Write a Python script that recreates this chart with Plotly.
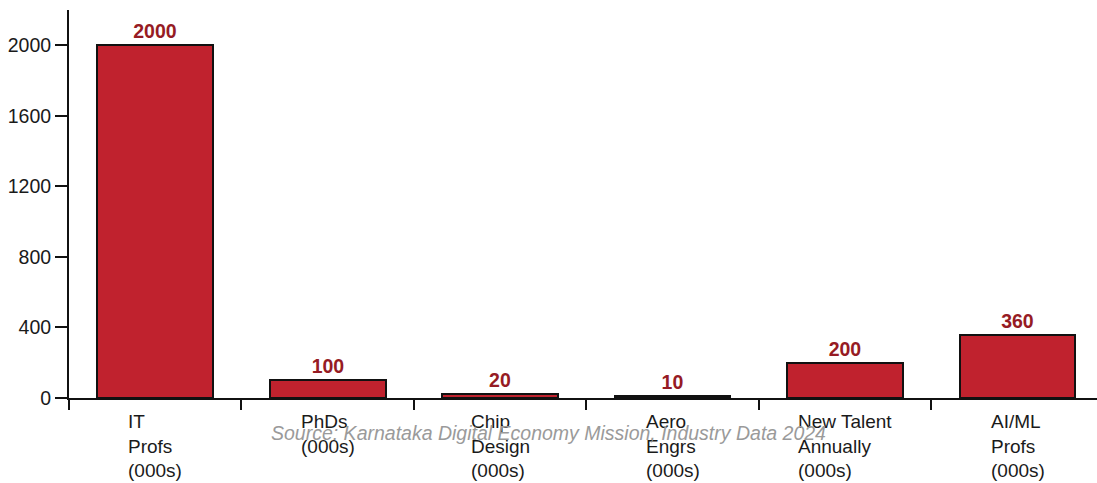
import plotly.graph_objects as go

# Talent pool in Karnataka (thousands)
categories = ["IT<br>Profs<br>(000s)", "PhDs<br>(000s)", "Chip<br>Design<br>(000s)",
              "Aero<br>Engrs<br>(000s)", "New Talent<br>Annually<br>(000s)", "AI/ML<br>Profs<br>(000s)"]
values = [2000, 100, 20, 10, 200, 360]
y_ticks = [0, 400, 800, 1200, 1600, 2000]

BAR_RED = "#c0222e"
LABEL_RED = "#961b24"
FONT = "Liberation Sans, Arial, Helvetica, sans-serif"

fig = go.Figure()
fig.add_trace(go.Bar(
    x=list(range(len(categories))),
    y=values,
    width=0.67,
    marker=dict(color=BAR_RED, line=dict(color="#111111", width=2)),
    text=[str(v) for v in values],
    textposition="outside",
    textfont=dict(family=FONT, size=19.5, color=LABEL_RED, weight="bold"),
    cliponaxis=False,
))

# Category labels under each bar (left-aligned block)
for i, cat in enumerate(categories):
    fig.add_annotation(
        x=i, xref="x", y=0, yref="paper", yanchor="top", yshift=-11,
        text=cat, showarrow=False, align="left",
        font=dict(family=FONT, size=19, color="#1a1a1a"),
    )

fig.add_annotation(
    x=0.466, xref="paper", y=0, yref="paper", yanchor="middle", yshift=-35,
    text="<i>Source: Karnataka Digital Economy Mission, Industry Data 2024</i>",
    showarrow=False, font=dict(family=FONT, size=19.5, color="#9a9a9a"),
)

fig.update_layout(
    width=1097, height=483,
    margin=dict(l=69, r=0, t=10, b=85),
    paper_bgcolor="white", plot_bgcolor="white",
    showlegend=False,
    bargap=0,
)
fig.update_xaxes(
    range=[-0.5, 5.46],
    tickmode="array", tickvals=[-0.5, 0.5, 1.5, 2.5, 3.5, 4.5, 5.5],
    showticklabels=False,
    ticks="outside", ticklen=10, tickwidth=2, tickcolor="#111111",
    showline=True, linecolor="#111111", linewidth=2,
    showgrid=False, zeroline=False,
)
fig.update_yaxes(
    range=[0, 2200],
    tickmode="array", tickvals=y_ticks, ticktext=[str(t) for t in y_ticks],
    ticks="outside", ticklen=12, tickwidth=2, tickcolor="#111111",
    ticklabelstandoff=0,
    showline=True, linecolor="#111111", linewidth=2,
    showgrid=False, zeroline=False,
    tickfont=dict(family=FONT, size=19.5, color="#1a1a1a"),
)

fig.write_html("out.html")
